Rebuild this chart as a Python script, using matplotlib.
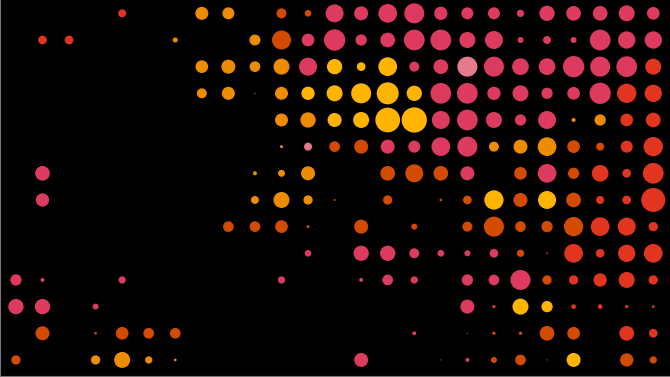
import numpy as np
import matplotlib
matplotlib.use("Agg")
import matplotlib.pyplot as plt

# colour codes per cell, one string per row ('.' = empty)
color_rows = [
    "....R..OO.DDPPPPPPPPPPPPP",
    ".RR...O..ODPPPPPPPPPPPPPP",
    ".......OOOOPYYYPPLPPPPPPR",
    ".......OOOOYYYYYPPPPPPPRR",
    "..........OOYYYYPPPPPOORR",
    "..........OLDDPPPPOOODDRR",
    ".P.......OOO..DDDP.DPDRRR",
    ".P.......OOOD.D.DDYDYDRRR",
    "........DDDD.D.D.DDDDDRRR",
    "...........P.PPPPPPDDRRRR",
    "PP..P.....P..PPP.PPPDRRRR",
    "PP.P.............PDYYRRRR",
    ".D.DDDD........P.PDDDD.RR",
    "D..OOOO......P..DPDDDY.DD",
]

# bubble sizes
size_rows = [
    [0, 0, 0, 0, 8, 0, 0, 13, 12, 0, 10, 6.7, 18, 14, 18.7, 20, 13.3, 12, 12, 7.3, 15.3, 14.7, 14.7, 16, 12.7],
    [0, 8.7, 8.7, 0, 0, 0, 5, 0, 0, 11, 19, 12.7, 21.3, 11.3, 14.7, 20.7, 20.7, 16, 18, 6, 8, 6, 20.7, 17.3, 17.3],
    [0, 0, 0, 0, 0, 0, 0, 12.7, 14, 10.7, 16, 18, 15.3, 8.7, 18.7, 10, 14.7, 20, 20, 16.7, 16.7, 21.3, 20, 20.7, 16],
    [0, 0, 0, 0, 0, 0, 0, 10, 13, 1.2, 13, 13.3, 16, 20, 22, 15.3, 20.7, 20.7, 13.3, 16, 11.3, 12.7, 21.3, 19.3, 17.3],
    [0, 0, 0, 0, 0, 0, 0, 0, 0, 0, 13, 15.3, 14, 16, 24.7, 25.3, 18, 20.7, 16, 11.3, 18, 4, 11.3, 12.7, 14.7],
    [0, 0, 0, 0, 0, 0, 0, 0, 0, 0, 3, 8, 10.7, 14, 14, 12, 18.7, 20, 10, 14, 18.7, 12.7, 8, 12, 19.3],
    [0, 14.7, 0, 0, 0, 0, 0, 0, 0, 4, 7, 14, 0, 0, 14.7, 18, 14.7, 14, 0, 12.7, 18.7, 11.3, 16.7, 8.7, 20.7],
    [0, 13.3, 0, 0, 0, 0, 0, 0, 0, 8, 16, 9.3, 2, 0, 9.3, 0, 2.7, 8.7, 19.3, 14, 18, 14.7, 8, 8.7, 24],
    [0, 0, 0, 0, 0, 0, 0, 0, 10.7, 10.7, 12.7, 3, 0, 14, 0, 6, 0, 10, 20, 10.7, 11.3, 19.3, 18.7, 18, 9.3],
    [0, 0, 0, 0, 0, 0, 0, 0, 0, 0, 0, 6.7, 0, 15.3, 15.3, 10, 6.7, 6, 8.7, 7.3, 1.7, 18.7, 8.7, 17.3, 18.7],
    [11.3, 4, 0, 0, 7.3, 0, 0, 0, 0, 0, 7.3, 0, 0, 4, 10.7, 7.3, 0, 11.3, 10.7, 20, 9.3, 9.3, 13.3, 16, 9.3],
    [15.3, 15.3, 0, 6, 0, 0, 0, 0, 0, 0, 0, 0, 0, 0, 0, 0, 0, 14, 3.3, 16, 11.3, 4.7, 4.7, 3.3, 2.7],
    [0, 14, 0, 2.7, 12.7, 10.7, 10.7, 0, 0, 0, 0, 0, 0, 0, 0, 4, 0, 1.3, 3.3, 3.3, 14.7, 12.7, 0, 14.7, 8.7],
    [9.3, 0, 0, 9.3, 16, 7.3, 2.7, 0, 0, 0, 0, 0, 0, 14, 0, 0, 1.3, 4, 6, 10.7, 1.3, 14, 0, 13.3, 7.3],
]

palette = {
    "P": "#dc3a5e",
    "Y": "#ffb400",
    "O": "#ee8c00",
    "D": "#d24b00",
    "R": "#e2351f",
    "L": "#e57a8d",
}

xs, ys, ss, cs = [], [], [], []
for r, (crow, srow) in enumerate(zip(color_rows, size_rows)):
    for c, (code, val) in enumerate(zip(crow, srow)):
        if code == "." or val <= 0:
            continue
        xs.append(c)
        ys.append(r)
        ss.append((val * 0.72) ** 2)
        cs.append(palette[code])

fig = plt.figure(figsize=(6.7, 3.77), dpi=100, facecolor="black")
ax = fig.add_axes([0, 0, 1, 1])
ax.set_facecolor("black")
ax.scatter(xs, ys, s=ss, c=cs, linewidths=0)

ax.set_xlim(-0.6, 24.63)
ax.set_ylim(13.64, -0.5)
ax.set_xticks([])
ax.set_yticks([])
for side in ["top", "right"]:
    ax.spines[side].set_visible(False)
for side in ["left", "bottom"]:
    ax.spines[side].set_color("#777777")
    ax.spines[side].set_linewidth(1.5)

fig.savefig("out.png", dpi=100, facecolor="black")
